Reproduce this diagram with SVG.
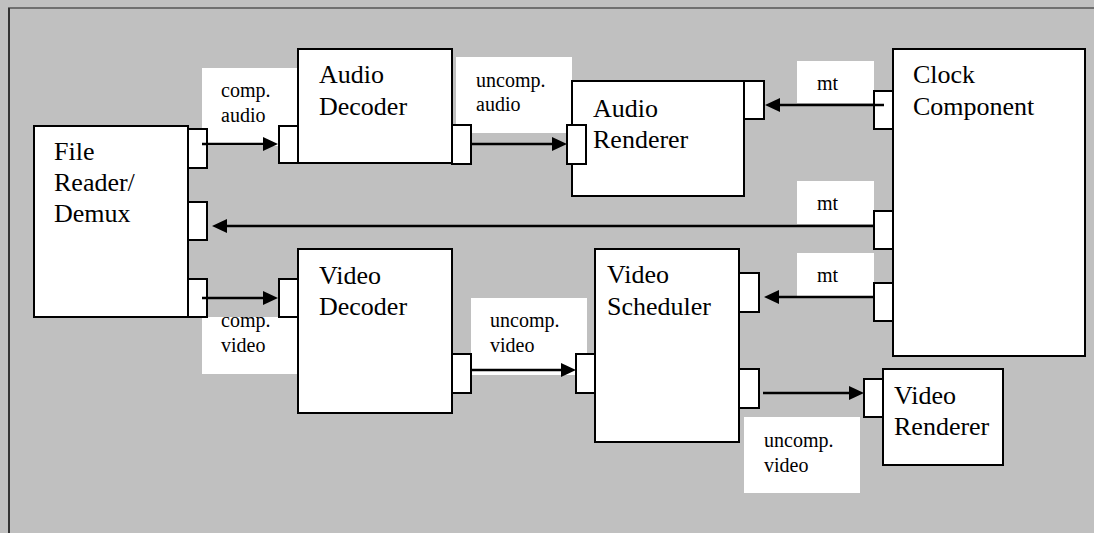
<svg xmlns="http://www.w3.org/2000/svg" width="1094" height="533" viewBox="0 0 1094 533">
<style>
.node{fill:#fff;stroke:#000;stroke-width:2}
.port{fill:#fff;stroke:#000;stroke-width:2}
.lbl{fill:#fff;stroke:none}
.t{font-family:'Liberation Serif','Times New Roman',serif;font-size:26px;fill:#000}
.s{font-family:'Liberation Serif','Times New Roman',serif;font-size:20px;fill:#000}
.c{stroke:#000;stroke-width:2.5;fill:none;marker-end:url(#ah)}
</style>
<defs>
<marker id="ah" markerUnits="userSpaceOnUse" markerWidth="16" markerHeight="14" refX="0" refY="7" orient="auto">
<path d="M0,0 L15,7 L0,14 z" fill="#000"/>
</marker>
</defs>
<rect x="0" y="0" width="1094" height="533" fill="#c0c0c0"/>
<line x1="8" y1="8" x2="1094" y2="8" stroke="#555" stroke-width="1.5"/>
<line x1="9" y1="8" x2="9" y2="533" stroke="#333" stroke-width="2"/>

<g id="labels">
<rect class="lbl" x="202" y="68" width="96" height="78"/>
<text class="s" x="221" y="97">comp.</text>
<text class="s" x="221" y="122">audio</text>
<rect class="lbl" x="456" y="57" width="116" height="76"/>
<text class="s" x="476" y="87">uncomp.</text>
<text class="s" x="476" y="111">audio</text>
<rect class="lbl" x="797" y="61" width="77" height="42"/>
<text class="s" x="817" y="90">mt</text>
<rect class="lbl" x="797" y="181" width="77" height="43"/>
<text class="s" x="817" y="210">mt</text>
<rect class="lbl" x="797" y="253" width="77" height="43"/>
<text class="s" x="817" y="282">mt</text>
<rect class="lbl" x="202" y="317" width="96" height="57"/>
<text class="s" x="221" y="327">comp.</text>
<text class="s" x="221" y="352">video</text>
<rect class="lbl" x="471" y="298" width="116" height="77"/>
<text class="s" x="490" y="327">uncomp.</text>
<text class="s" x="490" y="352">video</text>
<rect class="lbl" x="744" y="417" width="116" height="76"/>
<text class="s" x="764" y="447">uncomp.</text>
<text class="s" x="764" y="472">video</text>
</g>

<g id="file-reader">
<rect class="node" x="34" y="126" width="154" height="191"/>
<rect class="port" x="188" y="129" width="19" height="39"/>
<rect class="port" x="188" y="202" width="19" height="38"/>
<rect class="port" x="188" y="279" width="19" height="38"/>
<text class="t" x="54" y="160">File</text>
<text class="t" x="54" y="191">Reader/</text>
<text class="t" x="54" y="222">Demux</text>
</g>

<g id="audio-decoder">
<rect class="node" x="298" y="49" width="154" height="114"/>
<rect class="port" x="279" y="126" width="19" height="37"/>
<rect class="port" x="452" y="125" width="19" height="39"/>
<text class="t" x="319" y="83">Audio</text>
<text class="t" x="319" y="115">Decoder</text>
</g>

<g id="audio-renderer">
<rect class="node" x="572" y="81" width="172" height="115"/>
<rect class="port" x="567" y="125" width="19" height="39"/>
<rect class="port" x="744" y="81" width="20" height="38"/>
<text class="t" x="593" y="117">Audio</text>
<text class="t" x="593" y="148">Renderer</text>
</g>

<g id="clock">
<rect class="node" x="893" y="49" width="192" height="307"/>
<rect class="port" x="874" y="91" width="19" height="38"/>
<rect class="port" x="874" y="211" width="19" height="38"/>
<rect class="port" x="874" y="283" width="19" height="38"/>
<text class="t" x="913" y="83">Clock</text>
<text class="t" x="913" y="115">Component</text>
</g>

<g id="video-decoder">
<rect class="node" x="298" y="249" width="154" height="164"/>
<rect class="port" x="279" y="279" width="19" height="38"/>
<rect class="port" x="452" y="354" width="19" height="39"/>
<text class="t" x="319" y="284">Video</text>
<text class="t" x="319" y="315">Decoder</text>
</g>

<g id="video-scheduler">
<rect class="node" x="595" y="249" width="144" height="193"/>
<rect class="port" x="576" y="354" width="19" height="39"/>
<rect class="port" x="739" y="273" width="20" height="39"/>
<rect class="port" x="739" y="369" width="20" height="39"/>
<text class="t" x="607" y="283">Video</text>
<text class="t" x="607" y="315">Scheduler</text>
</g>

<g id="video-renderer">
<rect class="node" x="883" y="369" width="120" height="96"/>
<rect class="port" x="864" y="379" width="19" height="38"/>
<text class="t" x="894" y="404">Video</text>
<text class="t" x="894" y="435">Renderer</text>
</g>

<g id="connectors">
<path class="c" d="M202,144 H263"/>
<path class="c" d="M471,144 H552"/>
<path class="c" d="M884,105 H780"/>
<path class="c" d="M874,226 H227"/>
<path class="c" d="M874,297 H779"/>
<path class="c" d="M202,298 H263"/>
<path class="c" d="M471,370 H561"/>
<path class="c" d="M763,393 H849"/>
</g>
</svg>
